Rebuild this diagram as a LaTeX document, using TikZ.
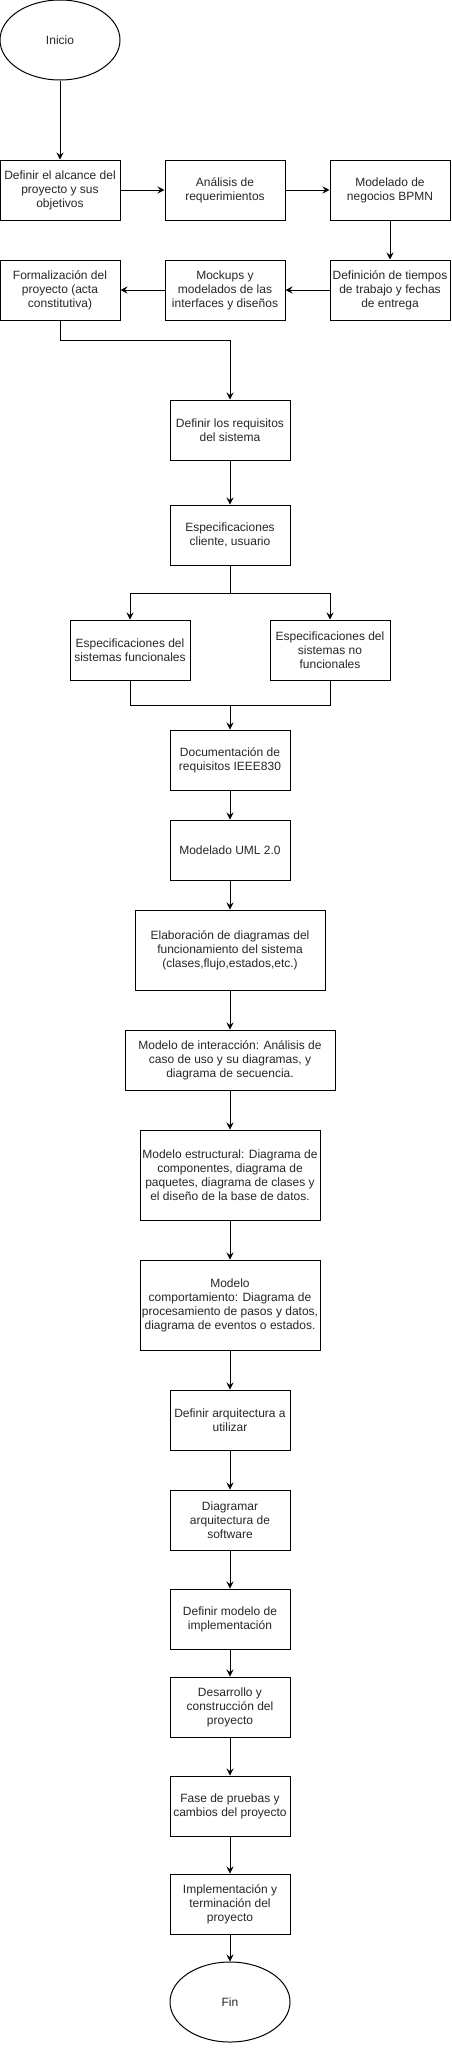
\documentclass[tikz,border=0pt]{standalone}
\usepackage{fontspec}
\setmainfont{Liberation Sans}
\usetikzlibrary{shapes.geometric,arrows.meta}
\tikzset{
  base/.style={draw=black, line width=1pt, inner sep=1pt, align=center,
    font=\fontsize{12}{14}\selectfont, text=black!85},
  stepbox/.style={base, rectangle, minimum width=120pt, minimum height=60pt},
  term/.style={base, ellipse, minimum width=120pt, minimum height=80pt},
  conn/.style={line width=1pt, draw=black},
  arr/.style={conn, -{Stealth[length=7pt,width=7pt,inset=2.5pt]}}
}
\begin{document}
\begin{tikzpicture}[x=1pt,y=-1pt]
\useasboundingbox (0,0) rectangle (452,2051);
\node[term] (inicio) at (60,40) {Inicio};
\node[stepbox] (alcance) at (60,190) {Definir el alcance del\\proyecto y sus\\objetivos};
\node[stepbox] (analisis) at (225,190) {Análisis de\\requerimientos};
\node[stepbox] (bpmn) at (390,190) {Modelado de\\negocios BPMN};
\node[stepbox] (tiempos) at (390,290) {Definición de tiempos\\de trabajo y fechas\\de entrega};
\node[stepbox] (mockups) at (225,290) {Mockups y\\modelados de las\\interfaces y diseños};
\node[stepbox] (formal) at (60,290) {Formalización del\\proyecto (acta\\constitutiva)};
\node[stepbox] (requisitos) at (230,430) {Definir los requisitos\\del sistema};
\node[stepbox] (cliente) at (230,535) {Especificaciones\\cliente, usuario};
\node[stepbox] (func) at (130,650) {Especificaciones del\\sistemas funcionales};
\node[stepbox] (nofunc) at (330,650) {Especificaciones del\\sistemas no\\funcionales};
\node[stepbox] (doc) at (230,760) {Documentación de\\requisitos IEEE830};
\node[stepbox] (uml) at (230,850) {Modelado UML 2.0};
\node[stepbox, minimum width=190pt, minimum height=80pt] (elab) at (230,950) {Elaboración de diagramas del\\funcionamiento del sistema\\(clases,flujo,estados,etc.)};
\node[stepbox, minimum width=210pt] (inter) at (230,1060) {Modelo de interacción: Análisis de\\caso de uso y su diagramas, y\\diagrama de secuencia.};
\node[stepbox, minimum width=180pt, minimum height=90pt] (estruct) at (230,1175) {Modelo estructural: Diagrama de\\componentes, diagrama de\\paquetes, diagrama de clases y\\el diseño de la base de datos.};
\node[stepbox, minimum width=180pt, minimum height=90pt] (comport) at (230,1305) {Modelo\\comportamiento: Diagrama de\\procesamiento de pasos y datos,\\diagrama de eventos o estados.};
\node[stepbox] (arq) at (230,1420) {Definir arquitectura a\\utilizar};
\node[stepbox] (diag) at (230,1520) {Diagramar\\arquitectura de\\software};
\node[stepbox] (modimpl) at (230,1619) {Definir modelo de\\implementación};
\node[stepbox] (desarrollo) at (230,1707) {Desarrollo y\\construcción del\\proyecto};
\node[stepbox] (pruebas) at (230,1806) {Fase de pruebas y\\cambios del proyecto};
\node[stepbox] (implem) at (230,1904) {Implementación y\\terminación del\\proyecto};
\node[term] (fin) at (230,2002) {Fin};

\coordinate (m1) at (230,593);
\coordinate (m2) at (230,705);

\draw[arr] (inicio) -- (alcance);
\draw[arr] (alcance) -- (analisis);
\draw[arr] (analisis) -- (bpmn);
\draw[arr] (bpmn) -- (tiempos);
\draw[arr] (tiempos) -- (mockups);
\draw[arr] (mockups) -- (formal);
\draw[arr] (formal.south) -- ++(0,20) -| (requisitos.north);
\draw[arr] (requisitos) -- (cliente);
\draw[conn] (cliente.south) -- (m1);
\draw[arr] (m1) -| (func.north);
\draw[arr] (m1) -| (nofunc.north);
\draw[conn] (func.south) |- (m2) -| (nofunc.south);
\draw[arr] (m2) -- (doc.north);
\draw[arr] (doc) -- (uml);
\draw[arr] (uml) -- (elab);
\draw[arr] (elab) -- (inter);
\draw[arr] (inter) -- (estruct);
\draw[arr] (estruct) -- (comport);
\draw[arr] (comport) -- (arq);
\draw[arr] (arq) -- (diag);
\draw[arr] (diag) -- (modimpl);
\draw[arr] (modimpl) -- (desarrollo);
\draw[arr] (desarrollo) -- (pruebas);
\draw[arr] (pruebas) -- (implem);
\draw[arr] (implem) -- (fin);
\end{tikzpicture}
\end{document}
